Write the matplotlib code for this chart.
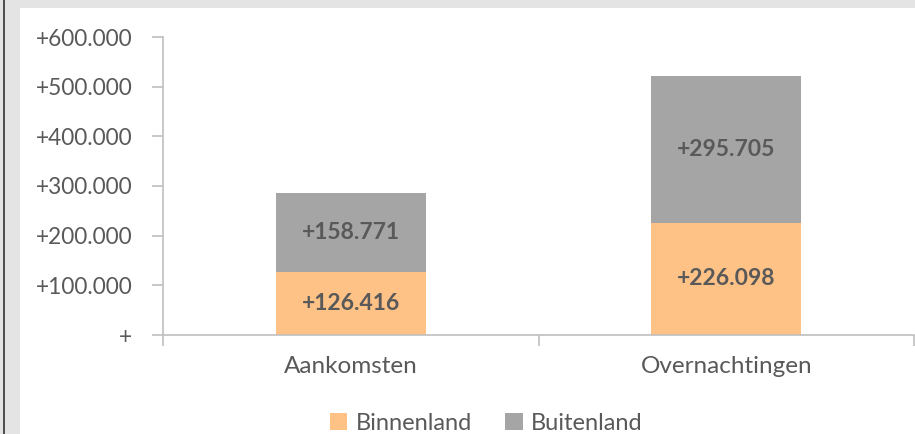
import matplotlib
matplotlib.use("Agg")
import matplotlib.pyplot as plt
from matplotlib.patches import Rectangle
from matplotlib.ticker import FuncFormatter

categories = ["Aankomsten", "Overnachtingen"]
binnenland = [126416, 226098]
buitenland = [158771, 295705]
series_names = ["Binnenland", "Buitenland"]
yticks = [0, 100000, 200000, 300000, 400000, 500000, 600000]

c_bin = "#FFC286"
c_bui = "#A5A5A5"
txt = "#595959"

plt.rcParams["font.family"] = ["Lato", "DejaVu Sans"]

W, H = 915, 434
fig = plt.figure(figsize=(W / 100, H / 100), dpi=100)
fig.patch.set_facecolor("white")

# frame decorations
fig.patches.append(Rectangle((0, 1 - 8 / H), 1, 8 / H, transform=fig.transFigure,
                             facecolor="#E4E4E4", edgecolor="none", zorder=0))
fig.patches.append(Rectangle((0, 0), 20 / W, 1, transform=fig.transFigure,
                             facecolor="#E4E4E4", edgecolor="none", zorder=0))
fig.patches.append(Rectangle((3 / W, 0), 2 / W, 1, transform=fig.transFigure,
                             facecolor="#505050", edgecolor="none", zorder=1))

ax = fig.add_axes([163 / W, 1 - 335 / H, (914 - 163) / W, (335 - 37) / H])
x = [0, 1]
w = 0.4
b1 = ax.bar(x, binnenland, width=w, color=c_bin, label=series_names[0], zorder=2)
b2 = ax.bar(x, buitenland, width=w, bottom=binnenland, color=c_bui, label=series_names[1], zorder=2)

for i in range(2):
    ax.text(x[i], binnenland[i] / 2, "+{:,}".format(binnenland[i]).replace(",", "."),
            ha="center", va="center", fontsize=16.5, fontweight="bold", color=txt)
    ax.text(x[i], binnenland[i] + buitenland[i] / 2,
            "+{:,}".format(buitenland[i]).replace(",", "."),
            ha="center", va="center", fontsize=16.5, fontweight="bold", color=txt)

ax.set_xlim(-0.5, 1.5)
ax.set_ylim(0, 600000)
ax.set_yticks(yticks)
ax.yaxis.set_major_formatter(FuncFormatter(
    lambda v, p: "+" if v == 0 else "+{:,}".format(int(v)).replace(",", ".")))
ax.set_xticks(x)
ax.set_xticklabels(categories)
ax.set_xticks([-0.5, 0.5, 1.5], minor=True)
ax.tick_params(axis="x", which="major", length=0, pad=15, labelsize=17.5, labelcolor=txt)
ax.tick_params(axis="x", which="minor", length=8, color="#BFBFBF", width=1.2)
ax.tick_params(axis="y", length=8, color="#BFBFBF", width=1.2, labelsize=16.3,
               labelcolor=txt, pad=14)

for s in ["top", "right"]:
    ax.spines[s].set_visible(False)
for s in ["left", "bottom"]:
    ax.spines[s].set_color("#BFBFBF")
    ax.spines[s].set_linewidth(1.2)

leg = fig.legend(handles=[b1, b2], labels=series_names, loc="center",
                 bbox_to_anchor=(486 / W, 1 - 423 / H), ncol=2, frameon=False,
                 fontsize=17, handlelength=0.75, handleheight=0.75, handletextpad=0.35,
                 columnspacing=1.4, labelcolor=txt, borderpad=0)

fig.savefig("out.png", dpi=100, facecolor=fig.get_facecolor())
